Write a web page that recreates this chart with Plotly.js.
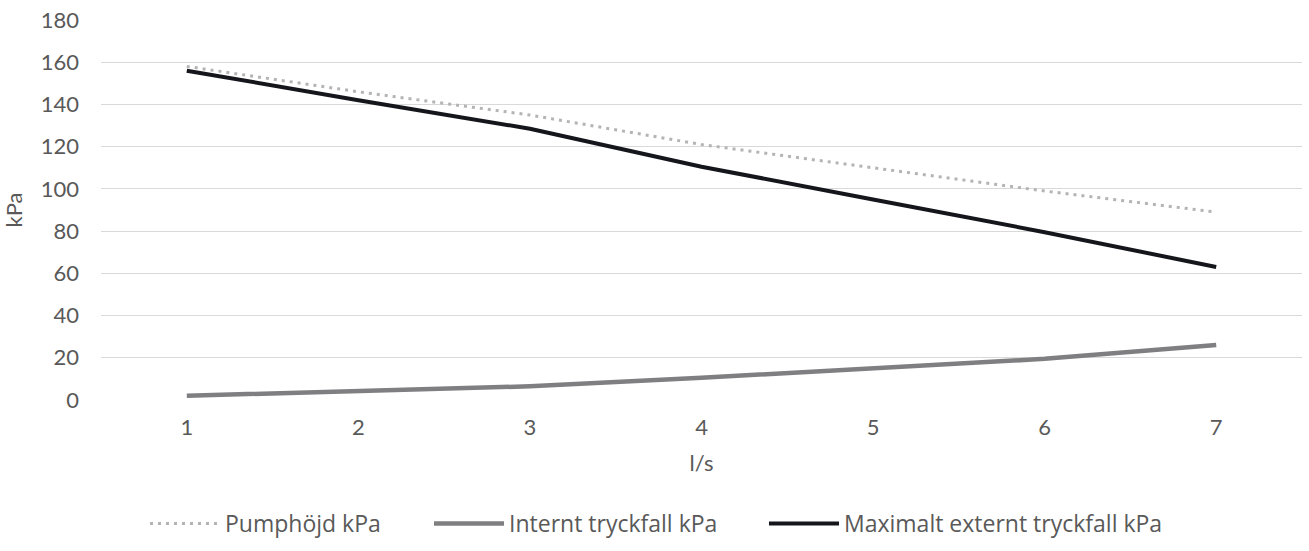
<!DOCTYPE html>
<html>
<head>
<meta charset="utf-8">
<script src="https://cdn.plot.ly/plotly-3.0.1.min.js"></script>
<style>html,body{margin:0;padding:0;background:#fff;}#chart{width:1309px;height:551px;}</style>
</head>
<body>
<div id="chart"></div>
<script>
var flow = [1, 2, 3, 4, 5, 6, 7];
var pumphojd = [158, 146, 135, 121, 110, 99, 89];
var internt = [2, 4, 6.5, 10.5, 15, 19.5, 26];
var maxExternt = [156, 142, 128.5, 110.5, 95, 79.5, 63];
var yTicks = [0, 20, 40, 60, 80, 100, 120, 140, 160, 180];

var font = "Lato, 'Noto Sans', sans-serif";
var traces = [
  {x: flow, y: pumphojd, name: 'Pumphöjd kPa', mode: 'lines', legend: 'legend',
   line: {color: '#b4b4b6', width: 3, dash: '3px,5px'}},
  {x: flow, y: internt, name: 'Internt tryckfall kPa', mode: 'lines', legend: 'legend2',
   line: {color: '#7f7f81', width: 4.5}},
  {x: flow, y: maxExternt, name: 'Maximalt externt tryckfall kPa', mode: 'lines', legend: 'legend3',
   line: {color: '#15161c', width: 4}}
];
function leg(x) {
  return {orientation: 'h', xref: 'container', yref: 'container', x: x, xanchor: 'left',
          y: 0.05, yanchor: 'middle', itemwidth: 70,
          font: {family: "'Open Sans', Lato, sans-serif", size: 23, color: '#595959'},
          bgcolor: 'rgba(0,0,0,0)'};
}
var layout = {
  width: 1309, height: 551,
  margin: {l: 101, r: 7, t: 20, b: 151},
  paper_bgcolor: '#fff', plot_bgcolor: '#fff',
  font: {family: font, size: 22, color: '#595959'},
  showlegend: true,
  legend: leg(145 / 1309),
  legend2: leg(429 / 1309),
  legend3: leg(764 / 1309),
  xaxis: {range: [0.5, 7.5], tickvals: flow, ticktext: flow.map(String),
          showgrid: false, zeroline: false, showline: false, ticks: '',
          ticklabelstandoff: 12,
          title: {text: 'l/s', font: {size: 22, color: '#595959'}, standoff: 16}},
  yaxis: {range: [0, 180], tickvals: yTicks, showgrid: true, gridcolor: '#d9d9d9',
          gridwidth: 1.3, zeroline: false, showline: false, ticks: '',
          ticklabelstandoff: 21,
          title: {text: 'kPa', font: {size: 22, color: '#595959'}, standoff: 14}}
};
Plotly.newPlot('chart', traces, layout, {displayModeBar: false});
</script>
</body>
</html>
